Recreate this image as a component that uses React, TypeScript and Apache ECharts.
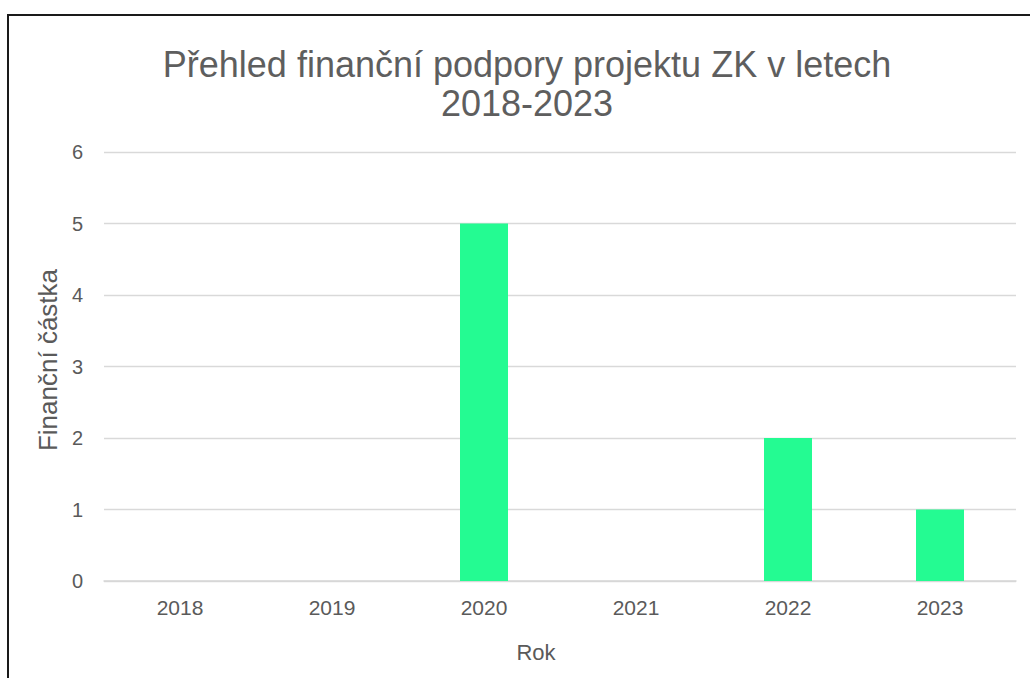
import React, { useEffect, useRef } from "react";
import * as echarts from "echarts";

const titleText = "Přehled finanční podpory projektu ZK v letech\n2018-2023";
const years = ["2018", "2019", "2020", "2021", "2022", "2023"];
const amounts = [0, 0, 5, 0, 2, 1];
const yTicks = { min: 0, max: 6, interval: 1 };
const xAxisName = "Rok";
const yAxisName = "Finanční částka";

export default function App() {
  const ref = useRef<HTMLDivElement>(null);
  useEffect(() => {
    const chart = echarts.init(ref.current!, null, { renderer: "svg" });
    const font = "'Liberation Sans', Arial, Helvetica, sans-serif";
    chart.setOption({
      animation: false,
      backgroundColor: "#ffffff",
      textStyle: { fontFamily: font },
      title: {
        text: titleText,
        left: 522,
        top: 40,
        textAlign: "center",
        textStyle: {
          fontFamily: font,
          fontSize: 36,
          fontWeight: "normal",
          color: "#5e5e5e",
          lineHeight: 39,
        },
      },
      grid: { left: 104, right: 14, top: 152, bottom: 97, containLabel: false },
      xAxis: {
        type: "category",
        data: years,
        axisLine: { lineStyle: { color: "#d6d6d6", width: 1.5 } },
        axisTick: { show: false },
        axisLabel: { color: "#5a5a5a", fontSize: 21, margin: 16, fontFamily: font },
      },
      yAxis: {
        type: "value",
        min: yTicks.min,
        max: yTicks.max,
        interval: yTicks.interval,
        axisLine: { show: false },
        axisTick: { show: false },
        splitLine: { lineStyle: { color: "#d9d9d9", width: 1.3 } },
        axisLabel: { color: "#5a5a5a", fontSize: 20, margin: 21, fontFamily: font },
      },
      series: [
        {
          type: "bar",
          data: amounts,
          barWidth: 48,
          itemStyle: { color: "#24fb92" },
        },
      ],
      graphic: [
        {
          type: "polyline",
          shape: { points: [[8, 678], [8, 15], [1030, 15]] },
          style: { stroke: "#1a1a1a", lineWidth: 2, fill: "none" },
          silent: true,
        },
        {
          type: "text",
          x: 536,
          y: 652,
          style: {
            text: xAxisName,
            fontSize: 22,
            fontFamily: font,
            fill: "#5a5a5a",
            textAlign: "center",
            textVerticalAlign: "middle",
          },
        },
        {
          type: "text",
          x: 48,
          y: 360,
          rotation: Math.PI / 2,
          style: {
            text: yAxisName,
            fontSize: 26,
            fontFamily: font,
            fill: "#5a5a5a",
            textAlign: "center",
            textVerticalAlign: "middle",
          },
        },
      ],
    });
    return () => chart.dispose();
  }, []);
  return (
    <div
      ref={ref}
      style={{ position: "absolute", left: 0, top: 0, width: 1030, height: 678 }}
    />
  );
}
